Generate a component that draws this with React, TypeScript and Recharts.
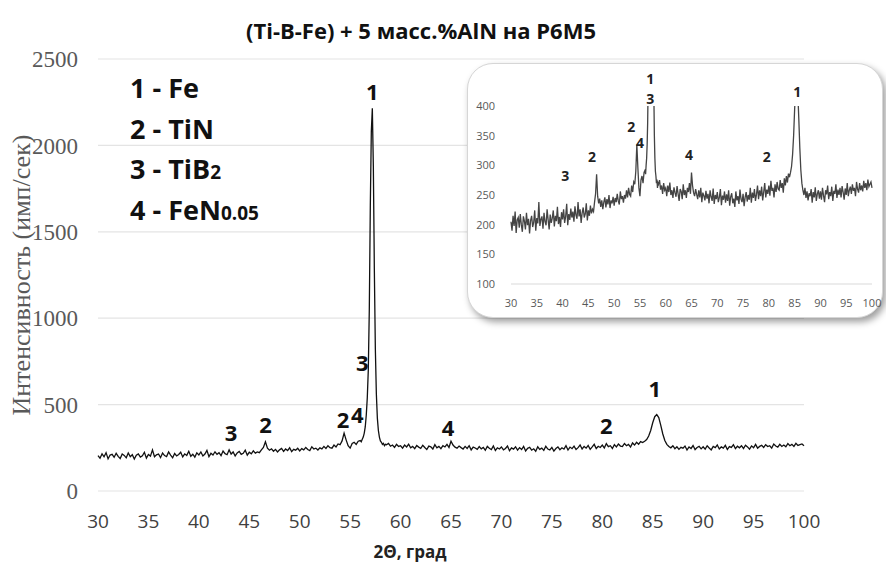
import React from 'react';
import { LineChart, Line, XAxis, YAxis, CartesianGrid, ReferenceDot } from 'recharts';

// ---- data (2Θ in degrees, intensity in counts/sec) ----
const segAStart = 30.0;
const segAStep = 0.2;
const segACounts = [
  205, 190, 215, 198, 222, 186, 208, 212, 195, 218,
  200, 188, 214, 206, 192, 220, 199, 210, 185, 207,
  215, 196, 204, 224, 190, 211, 202, 238, 198, 209,
  214, 193, 220, 205, 199, 226, 208, 192, 217, 203,
  211, 224, 197, 215, 206, 230, 201, 213, 196, 221,
  209, 226, 203, 214, 235, 199, 218, 208, 227, 212,
  222, 205, 231, 216, 210, 238, 214, 226, 203, 220,
  229, 212, 218, 236, 207, 224, 215, 232, 219, 226,
  222, 238, 252, 285, 248, 236, 244, 230, 241, 226,
  238, 246, 229, 243, 234, 250, 228, 241, 236, 247,
  232, 245, 238, 252, 240, 234, 256, 243, 248, 237,
  250, 244, 258, 246, 262, 251, 248, 266, 255, 272,
  268, 290, 335, 296, 262, 248, 275, 282, 270, 288,
];

const peakTheta = [
  56.0, 56.1, 56.2, 56.3, 56.4, 56.5, 56.6, 56.7, 56.8, 56.9,
  57.0, 57.1, 57.2, 57.3, 57.4, 57.5, 57.6, 57.7, 57.8, 57.9,
  58.0, 58.1, 58.2, 58.3, 58.4, 58.5,
];
const peakCounts = [
  292, 285, 300, 312, 335, 372, 440, 540, 700, 1050,
  1650, 2080, 2215, 1880, 1280, 820, 560, 420, 350, 312,
  290, 282, 270, 276, 262, 270,
];

const segBStart = 58.6;
const segBStep = 0.2;
const segBCounts = [
  268, 275, 259, 266, 252, 270, 258,
  262, 248, 266, 255, 271, 250, 258, 245, 263, 254,
  247, 265, 252, 240, 260, 256, 243, 268, 250, 258,
  245, 262, 255, 270, 252, 288, 266, 254, 248, 260,
  251, 243, 258, 246, 262, 238, 254, 249, 241, 257,
  244, 252, 236, 258, 247, 240, 261, 235, 250, 243,
  255, 238, 246, 260, 233, 249, 242, 256, 237, 251,
  240, 258, 232, 247, 253, 236, 244, 230, 256, 241,
  248, 235, 259, 243, 238, 252, 231, 246, 255, 239,
  250, 242, 262, 237, 254, 245, 260, 240, 251, 266,
  243, 258, 248, 264, 241, 255, 270, 246, 259, 252,
  266, 249, 274, 257, 262, 246, 268, 255, 272, 260,
  258, 275, 262, 270, 254, 278, 266, 282, 271, 286,
  280, 288, 298, 318, 350, 395, 430, 442, 425, 380,
  330, 292, 270, 258, 250, 262, 245, 256, 241, 253,
  248, 260, 237, 255, 246, 263, 240, 252, 258, 244,
  256, 242, 262, 249, 238, 258, 251, 266, 243, 255,
  248, 264, 240, 257, 252, 268, 245, 259, 250, 262,
  246, 265, 255, 242, 261, 250, 270, 248, 258, 264,
  252, 268, 257, 262, 248, 272, 260, 254, 270, 258,
  266, 256, 274, 262, 270, 258, 276, 264, 268, 272,
  262,
];

const xTicks = [30, 35, 40, 45, 50, 55, 60, 65, 70, 75, 80, 85, 90, 95, 100];
const yTicks = [0, 500, 1000, 1500, 2000, 2500];
const insetYTicks = [100, 150, 200, 250, 300, 350, 400];

// peak annotations: phase number at (2Θ, counts)
const mainPeakNames = ['1', '3', '2', '4', '3', '2', '4', '2', '1'];
const mainPeakTheta = [57.2, 56.2, 54.3, 55.7, 43.2, 46.6, 64.7, 80.4, 85.2];
const mainPeakCounts = [2309, 741, 411, 440, 336, 382, 365, 376, 590];

const insetPeakNames = ['1', '3', '2', '4', '2', '3', '4', '2', '1'];
const insetPeakTheta = [57.0, 57.0, 53.3, 55.0, 45.7, 40.5, 64.5, 79.6, 85.5];
const insetPeakCounts = [446, 412, 365, 338, 314, 282, 317, 314, 424];

const legendNumbers = ['1', '2', '3', '4'];
const legendPhases = ['Fe', 'TiN', 'TiB', 'FeN'];
const legendSubs = ['', '', '2', '0.05'];

const round1 = (v: number) => Math.round(v * 10) / 10;

const data = [
  ...segACounts.map((c, i) => ({ theta: round1(segAStart + i * segAStep), counts: c })),
  ...peakTheta.map((t, i) => ({ theta: t, counts: peakCounts[i] })),
  ...segBCounts.map((c, i) => ({ theta: round1(segBStart + i * segBStep), counts: c })),
];

const SANS = '"Open Sans", "DejaVu Sans", sans-serif';
const SERIF = '"Liberation Serif", "DejaVu Serif", serif';

export default function App() {
  return (
    <div
      style={{
        position: 'absolute',
        left: 0,
        top: 0,
        width: 886,
        height: 565,
        background: '#fff',
        overflow: 'hidden',
      }}
    >
      <LineChart
        width={886}
        height={565}
        data={data}
        margin={{ top: 59, right: 82, bottom: 34, left: 38 }}
      >
        <CartesianGrid vertical={false} stroke="#e4e4e4" strokeWidth={1.2} />
        <XAxis
          dataKey="theta"
          type="number"
          domain={[30, 100]}
          ticks={xTicks}
          interval={0}
          height={40}
          axisLine={false}
          tickLine={false}
          tickSize={0}
          tickMargin={24}
          tick={{ fontFamily: SANS, fontSize: 19, fill: '#404040' }}
        />
        <YAxis
          type="number"
          domain={[0, 2500]}
          ticks={yTicks}
          interval={0}
          width={60}
          axisLine={false}
          tickLine={false}
          tickSize={0}
          tickMargin={20}
          tick={{ fontFamily: SERIF, fontSize: 23, fill: '#595959' }}
        />
        <Line
          type="linear"
          dataKey="counts"
          stroke="#111"
          strokeWidth={1.3}
          dot={false}
          isAnimationActive={false}
        />
        {mainPeakNames.map((n, i) => (
          <ReferenceDot
            key={'m' + i}
            x={mainPeakTheta[i]}
            y={mainPeakCounts[i]}
            r={0}
            fill="none"
            stroke="none"
            ifOverflow="visible"
            label={{
              value: n,
              position: 'center',
              fill: '#111',
              fontSize: 22,
              fontWeight: 700,
              fontFamily: SANS,
            }}
          />
        ))}
      </LineChart>

      {/* title */}
      <div
        style={{
          position: 'absolute',
          left: 421,
          top: 30,
          transform: 'translate(-50%, -50%)',
          fontFamily: SANS,
          fontWeight: 700,
          fontSize: 22,
          color: '#111',
          whiteSpace: 'nowrap',
        }}
      >
        (Ti-B-Fe) + 5 масс.%AlN на P6M5
      </div>

      {/* y axis title */}
      <div
        style={{
          position: 'absolute',
          left: 22,
          top: 275,
          transform: 'translate(-50%, -50%) rotate(-90deg)',
          fontFamily: SERIF,
          fontSize: 26,
          color: '#595959',
          whiteSpace: 'nowrap',
        }}
      >
        Интенсивность (имп/сек)
      </div>

      {/* x axis title */}
      <div
        style={{
          position: 'absolute',
          left: 410,
          top: 551,
          transform: 'translate(-50%, -50%)',
          fontFamily: SANS,
          fontWeight: 700,
          fontSize: 17,
          color: '#222',
          whiteSpace: 'nowrap',
        }}
      >
        2Θ, град
      </div>

      {/* phase legend */}
      {legendNumbers.map((num, i) => (
        <div
          key={'lg' + i}
          style={{
            position: 'absolute',
            left: 130,
            top: [87, 128, 168, 209][i],
            transform: 'translateY(-50%)',
            fontFamily: SANS,
            fontWeight: 700,
            fontSize: 27,
            lineHeight: 1,
            color: '#111',
            whiteSpace: 'nowrap',
          }}
        >
          {num} - {legendPhases[i]}
          {legendSubs[i] ? <span style={{ fontSize: 19 }}>{legendSubs[i]}</span> : null}
        </div>
      ))}

      {/* inset */}
      <div
        style={{
          position: 'absolute',
          left: 467,
          top: 63,
          width: 416,
          height: 255,
          borderRadius: 26,
          background: '#fff',
          boxShadow: '3px 4px 7px rgba(0,0,0,0.38)',
          boxSizing: 'border-box',
          border: '1px solid #d6d6d6',
        }}
      >
        <div style={{ position: 'absolute', left: -1, top: -1 }}>
          <LineChart
            width={416}
            height={255}
            data={data}
            margin={{ top: 43, right: 11, bottom: 14, left: 14 }}
          >
            <XAxis
              dataKey="theta"
              type="number"
              domain={[30, 100]}
              ticks={xTicks}
              interval={0}
              height={20}
              axisLine={{ stroke: '#d9d9d9' }}
              tickLine={false}
              tickSize={0}
              tickMargin={15}
              tick={{ fontFamily: SANS, fontSize: 11, fill: '#595959' }}
            />
            <YAxis
              type="number"
              domain={[100, 400]}
              allowDataOverflow
              ticks={insetYTicks}
              interval={0}
              width={30}
              axisLine={false}
              tickLine={false}
              tickSize={0}
              tickMargin={16}
              tick={{ fontFamily: SANS, fontSize: 11, fill: '#595959' }}
            />
            <Line
              type="linear"
              dataKey="counts"
              stroke="#444"
              strokeWidth={1.3}
              dot={false}
              isAnimationActive={false}
            />
            {insetPeakNames.map((n, i) => (
              <ReferenceDot
                key={'in' + i}
                x={insetPeakTheta[i]}
                y={insetPeakCounts[i]}
                r={0}
                fill="none"
                stroke="none"
                ifOverflow="visible"
                label={{
                  value: n,
                  position: 'center',
                  fill: '#222',
                  fontSize: 14,
                  fontWeight: 700,
                  fontFamily: SANS,
                }}
              />
            ))}
          </LineChart>
        </div>
      </div>
    </div>
  );
}
